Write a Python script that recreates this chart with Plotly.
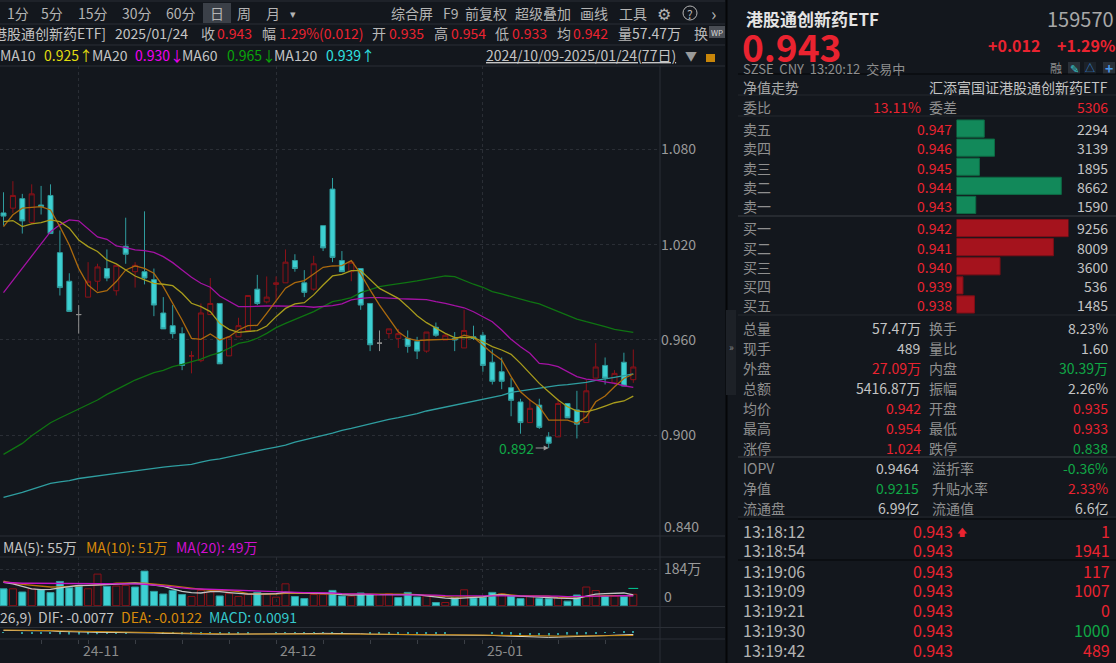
import plotly.graph_objects as go

W, H = 1116, 663
FONT = "Noto Sans CJK SC"
BG = "#13171d"
GREY = "#b9b9b9"
RED = "#ea2330"
GREEN = "#10a846"

# daily bars, left to right as visible in the window
opens = [1.040,1.043,1.049,1.034,1.045,1.051,1.015,.997,.976,.987,.997,1.005,.991,1.019,1.003,1.003,.998,.977,.969,.964,
         .950,.947,.976,.983,.950,.962,.966,.992,.984,.995,.996,1.010,.996,.992,1.032,1.055,1.010,1.003,1.005,.983,
         .958,.964,.961,.961,.959,.953,.968,.960,.961,.955,.962,.963,.946,.940,.930,.921,.908,.919,.899,.899,
         .920,.916,.908,.936,.944,.933,.946,.935]
highs = [1.053,1.060,1.052,1.058,1.057,1.058,1.029,1.002,.982,1.009,1.008,1.017,1.007,1.037,1.009,1.041,1.005,.987,.982,.968,
         .953,.983,.999,.983,.962,.974,.988,1.001,1.000,1.000,1.017,1.014,1.004,1.013,1.032,1.062,1.016,1.010,1.005,.983,
         .966,.967,.967,.966,.962,.965,.971,.964,.965,.979,.969,.965,.954,.949,.936,.923,.923,.923,.902,.923,
         .920,.928,.935,.958,.949,.941,.952,.954]
lows = [1.032,1.040,1.027,1.033,1.039,1.027,.988,.978,.964,.987,.991,.997,.988,1.008,.993,.995,.975,.967,.961,.941,
        .939,.946,.976,.945,.950,.962,.965,.982,.983,.985,.996,1.003,.987,.991,1.016,1.009,1.003,.997,.979,.953,
        .953,.961,.955,.952,.948,.952,.962,.960,.953,.955,.960,.940,.932,.929,.912,.901,.908,.904,.892,.899,
        .911,.898,.908,.936,.932,.932,.931,.933]
closes = [1.038,1.051,1.035,1.052,1.044,1.027,.993,.978,.976,.997,1.006,.999,1.007,1.014,1.007,.999,.982,.967,.964,.944,
          .950,.977,.983,.945,.962,.969,.988,.983,.987,.996,1.009,1.005,.990,1.008,1.018,1.012,1.003,1.009,.982,.957,
          .958,.967,.964,.956,.953,.965,.963,.963,.960,.966,.961,.944,.934,.934,.922,.908,.917,.905,.895,.920,
          .911,.907,.928,.943,.936,.939,.931,.943]
grey_days = [9, 41]

ma5 = [1.0314,1.0388,1.0430,1.0434,1.0440,1.0419,1.0314,1.0198,1.0051,.9946,.9898,.9911,.9968,1.0041,1.0066,1.0051,1.0020,.9936,.9831,.9726,
       .9610,.9604,.9638,.9600,.9621,.9663,.9690,.9692,.9768,.9848,.9926,.9961,.9974,1.0016,1.0058,1.0066,1.0068,1.0100,1.0016,.9915,
       .9820,.9736,.9652,.9610,.9596,.9600,.9604,.9604,.9604,.9631,.9617,.9568,.9516,.9474,.9369,.9274,.9222,.9180,.9096,.9096,
       .9096,.9075,.9117,.9211,.9247,.9306,.9358,.9386]
ma10 = [1.0345,1.0352,1.0314,1.0331,1.0339,1.0356,1.0345,1.0304,1.0230,1.0188,1.0157,1.0104,1.0079,1.0041,1.0003,.9978,.9957,.9951,.9942,.9894,
        .9831,.9810,.9779,.9705,.9667,.9648,.9652,.9659,.9688,.9747,.9799,.9827,.9835,.9884,.9946,1.0003,1.0013,1.0037,1.0037,.9978,
        .9925,.9894,.9862,.9810,.9753,.9709,.9673,.9642,.9615,.9615,.9617,.9589,.9558,.9537,.9510,.9453,.9390,.9327,.9274,.9222,
        .9180,.9153,.9148,.9163,.9184,.9205,.9216,.9247]
ma20 = [.9898,.9974,1.0047,1.0125,1.0203,1.0282,1.0325,1.0356,1.0350,1.0299,1.0249,1.0234,1.0192,1.0182,1.0167,1.0163,1.0152,1.0125,1.0087,1.0041,
        .9995,.9957,.9932,.9877,.9841,.9810,.9810,.9814,.9814,.9814,.9814,.9814,.9812,.9806,.9810,.9816,.9827,.9852,.9862,.9867,
        .9867,.9862,.9860,.9858,.9856,.9854,.9841,.9831,.9816,.9803,.9778,.9747,.9715,.9663,.9604,.9558,.9516,.9453,.9447,.9432,
        .9400,.9369,.9354,.9348,.9337,.9327,.9312,.9302]
ma60 = [.8880,.8913,.8949,.8997,.9039,.9079,.9109,.9138,.9167,.9195,.9222,.9258,.9285,.9317,.9348,.9373,.9394,.9409,.9432,.9447,
        .9463,.9480,.9503,.9520,.9548,.9579,.9590,.9611,.9642,.9678,.9705,.9730,.9753,.9779,.9810,.9841,.9852,.9867,.9898,.9915,
        .9936,.9946,.9953,.9963,.9972,.9982,.9993,1.0003,.9999,.9974,.9951,.9932,.9904,.9890,.9873,.9856,.9841,.9827,.9803,.9778,
        .9753,.9732,.9715,.9701,.9684,.9667,.9657,.9648]
ma120 = [.8609,.8624,.8640,.8659,.8678,.8697,.8707,.8714,.8728,.8737,.8743,.8752,.8760,.8768,.8777,.8785,.8794,.8800,.8806,.8810,
         .8817,.8831,.8844,.8852,.8865,.8875,.8892,.8905,.8915,.8926,.8938,.8957,.8970,.8987,.9000,.9014,.9031,.9043,.9058,.9073,
         .9085,.9100,.9111,.9123,.9136,.9153,.9165,.9176,.9188,.9201,.9211,.9224,.9239,.9251,.9270,.9279,.9287,.9298,.9308,.9314,
         .9319,.9325,.9333,.9346,.9354,.9365,.9375,.9386]

# volume, in 万
volume = [85,85,69,85,81,66,122,90,102,85,159,97,99,102,94,174,72,59,77,56,
          46,77,69,49,61,46,56,67,56,43,110,46,36,56,56,77,49,48,64,56,
          56,61,41,67,44,49,16,16,41,80,39,44,67,61,49,36,49,36,35,41,
          23,54,94,76,49,48,46,57.47]
vol_red_days = [2,4,10,11,13,14,21,22,23,25,26,27,29,30,31,34,35,38,41,42,46,48,50,54,57,60,63,64,66,68]
vol_forecast = 87
vol_ma5 = [118,110,97,85,81,82,90,97,102,102,104,107,108,110,113,110,105,97,85,72,
           66,64,71,71,66,61,58,58,58,61,67,66,64,64,62,61,56,53,54,56,56,56,56,58,56,49,43,38,36,38,
           39,44,53,54,51,49,48,44,41,38,36,36,48,58,61,64,64,55]
vol_ma10 = [123,113,107,102,97,94,95,97,99,102,104,107,113,115,115,113,110,105,100,94,
            87,81,77,76,76,71,61,59,58,59,62,64,64,61,59,58,58,58,58,58,59,61,59,58,56,53,49,46,43,44,
            44,44,51,59,54,49,49,49,48,41,41,44,46,49,51,51,51,51]
vol_ma20 = [118,115,113,113,113,113,113,113,112,110,110,110,110,110,110,108,105,100,95,90,
            85,84,82,81,79,77,76,74,72,69,67,67,66,66,66,64,61,61,59,58,56,56,56,54,54,54,53,51,51,49,
            49,51,51,51,49,49,49,49,49,48,46,46,49,49,49,49,51,49]

# MACD panel
dif = [.012,.012,.011,.011,.010,.010,.007,.005,.004,.004,.003,.003,.003,.002,.002,.001,.000,-.002,-.003,-.005,
       -.006,-.006,-.006,-.006,-.006,-.006,-.006,-.005,-.005,-.004,-.004,-.003,-.003,-.003,-.002,-.002,-.002,-.003,-.004,-.006,
       -.007,-.008,-.009,-.009,-.010,-.010,-.010,-.010,-.010,-.010,-.010,-.010,-.012,-.014,-.016,-.018,-.019,-.020,-.021,-.020,
       -.019,-.019,-.018,-.015,-.013,-.011,-.009,-.0077]
dea = [.014,.014,.013,.013,.012,.011,.010,.009,.008,.007,.006,.005,.004,.003,.002,.001,.000,.000,-.001,-.002,
       -.003,-.003,-.004,-.004,-.005,-.005,-.005,-.005,-.005,-.005,-.005,-.005,-.005,-.004,-.004,-.003,-.003,-.003,-.004,-.004,
       -.005,-.006,-.007,-.007,-.008,-.008,-.009,-.009,-.010,-.010,-.010,-.010,-.011,-.011,-.012,-.012,-.013,-.014,-.014,-.015,
       -.015,-.015,-.015,-.014,-.014,-.013,-.013,-.0122]
macd = [.002,0,-.002,-.004,-.004,-.002,-.006,-.008,-.008,-.006,-.006,-.004,-.002,-.002,0,0,0,-.004,-.004,-.006,
        -.006,-.006,-.004,-.004,-.002,-.002,-.002,0,0,.002,.002,.004,.004,.002,.004,.002,.002,0,0,-.004,
        -.004,-.004,-.004,-.004,-.004,-.004,-.002,-.002,0,0,0,0,-.002,-.006,-.008,-.012,-.012,-.012,-.014,-.010,
        -.008,-.008,-.006,-.002,.002,.004,.008,.0091]

price_ticks = [1.080, 1.020, 0.960, 0.900]
month_days = [9, 30, 52]
month_labels = ["24-11", "24-12", "25-01"]
date_ticks = [5, 9, 10, 15, 20, 25, 30, 35, 40, 45, 50, 52, 55, 60, 65]

sell_names = ["卖五", "卖四", "卖三", "卖二", "卖一"]
sell_prices = ["0.947", "0.946", "0.945", "0.944", "0.943"]
sell_sizes = [2294, 3139, 1895, 8662, 1590]
buy_names = ["买一", "买二", "买三", "买四", "买五"]
buy_prices = ["0.942", "0.941", "0.940", "0.939", "0.938"]
buy_sizes = [9256, 8009, 3600, 536, 1485]

stats_left = [("总量", "57.47万", GREY), ("现手", "489", GREY), ("外盘", "27.09万", RED), ("总额", "5416.87万", GREY),
              ("均价", "0.942", RED), ("最高", "0.954", RED), ("涨停", "1.024", RED)]
stats_right = [("换手", "8.23%", GREY), ("量比", "1.60", GREY), ("内盘", "30.39万", GREEN), ("振幅", "2.26%", GREY),
               ("开盘", "0.935", RED), ("最低", "0.933", RED), ("跌停", "0.838", GREEN)]
nav_left = [("IOPV", "0.9464", GREY), ("净值", "0.9215", GREEN), ("流通盘", "6.99亿", GREY)]
nav_right = [("溢折率", "-0.36%", GREEN), ("升贴水率", "2.33%", RED), ("流通值", "6.6亿", GREY)]
trades = [("13:18:12", "0.943", "1", RED), ("13:18:54", "0.943", "1941", RED), ("13:19:06", "0.943", "117", RED),
          ("13:19:09", "0.943", "1007", RED), ("13:19:21", "0.943", "0", RED), ("13:19:30", "0.943", "1000", GREEN),
          ("13:19:42", "0.943", "489", RED)]

days = list(range(1, len(closes) + 1))


def fx(x):
    return x / W


def fy(y):
    return 1 - y / H


notes = []
shapes = []


def txt(x, y, s, color=GREY, size=14, anchor="left", bold=False):
    if bold:
        s = "<b>" + s + "</b>"
    notes.append(dict(x=fx(x), y=fy(y), xref="paper", yref="paper", text=s, showarrow=False, xanchor=anchor,
                      yanchor="middle", font=dict(color=color, size=size, family=FONT), borderpad=0, borderwidth=0))


def hline(y, x0=0, x1=W, color="#2b2f36", width=1):
    shapes.append(dict(type="line", xref="paper", yref="paper", x0=fx(x0), x1=fx(x1), y0=fy(y), y1=fy(y),
                       line=dict(color=color, width=width)))


def vline(x, y0=0, y1=H, color="#2b2f36", width=1):
    shapes.append(dict(type="line", xref="paper", yref="paper", x0=fx(x), x1=fx(x), y0=fy(y0), y1=fy(y1),
                       line=dict(color=color, width=width)))


def box(x0, y0, x1, y1, fill="rgba(0,0,0,0)", line="rgba(0,0,0,0)"):
    shapes.append(dict(type="rect", xref="paper", yref="paper", x0=fx(x0), x1=fx(x1), y0=fy(y0), y1=fy(y1),
                       fillcolor=fill, line=dict(color=line, width=1)))


fig = go.Figure()


def add_candles(idx, line, fill):
    side = dict(line=dict(color=line, width=1), fillcolor=fill)
    fig.add_trace(go.Candlestick(x=[days[i] for i in idx], open=[opens[i] for i in idx], high=[highs[i] for i in idx],
                                 low=[lows[i] for i in idx], close=[closes[i] for i in idx],
                                 increasing=side, decreasing=side, whiskerwidth=0, showlegend=False))


up_idx = [i for i in range(len(days)) if closes[i] >= opens[i] and days[i] not in grey_days]
down_idx = [i for i in range(len(days)) if closes[i] < opens[i]]
flat_idx = [i for i in range(len(days)) if days[i] in grey_days]
add_candles(up_idx, "#8c1118", "rgba(0,0,0,0)")
add_candles(down_idx, "#2f9c9e", "#3dd0d2")
add_candles(flat_idx, "#8f8f8f", "#8f8f8f")

ma_lines = [(ma120, "#2f9ea0"), (ma60, "#0f7412"), (ma20, "#a412a4"), (ma5, "#ab6a0e"), (ma10, "#a89c1c")]
for vals, col in ma_lines:
    fig.add_trace(go.Scatter(x=days, y=vals, mode="lines", line=dict(color=col, width=1.3), showlegend=False))

bar_fill = ["rgba(0,0,0,0)" if d in vol_red_days else "#3dd0d2" for d in days]
bar_edge = ["#8c1118" if d in vol_red_days else "#2f9c9e" for d in days]
fig.add_trace(go.Bar(x=days, y=volume, width=0.75, marker=dict(color=bar_fill, line=dict(color=bar_edge, width=1)),
                     xaxis="x2", yaxis="y2", showlegend=False))
for vals, col in [(vol_ma10, "#b8720a"), (vol_ma5, "#c4c4c4"), (vol_ma20, "#c414c4")]:
    fig.add_trace(go.Scatter(x=days, y=vals, mode="lines", line=dict(color=col, width=1.3), xaxis="x2", yaxis="y2",
                             showlegend=False))
fig.add_trace(go.Scatter(x=days[-1:], y=[vol_forecast], mode="markers",
                         marker=dict(symbol="line-ew-open", size=7, line=dict(color="#c8860a", width=1)),
                         xaxis="x2", yaxis="y2", showlegend=False))

fig.add_trace(go.Bar(x=days, y=macd, width=0.12, marker=dict(color="#2f9c9e", line=dict(width=0)), xaxis="x3", yaxis="y3",
                     showlegend=False))
fig.add_trace(go.Scatter(x=days, y=dif, mode="lines", line=dict(color="#e6e0d0", width=1), xaxis="x3", yaxis="y3",
                         showlegend=False))
fig.add_trace(go.Scatter(x=days, y=dea, mode="lines", line=dict(color="#c8860a", width=1), xaxis="x3", yaxis="y3",
                         showlegend=False))

fig.add_trace(go.Bar(x=sell_sizes, y=sell_names, orientation="h", width=0.9,
                     marker=dict(color="#12895a", line=dict(color="#0d6a44", width=1)),
                     xaxis="x4", yaxis="y4", showlegend=False))
fig.add_trace(go.Bar(x=buy_sizes, y=buy_names, orientation="h", width=0.9,
                     marker=dict(color="#a5131d", line=dict(color="#7d0f17", width=1)),
                     xaxis="x5", yaxis="y5", showlegend=False))

# ---- toolbar
for x, s in [(7, "1分"), (41, "5分"), (78, "15分"), (122, "30分"), (166, "60分"), (210, "日"), (237, "周"), (266, "月")]:
    txt(x, 13, s, "#b4b4b4", 14)
box(203, 3, 231, 23, fill="#3b4048")
txt(293, 13, "▾", "#b4b4b4", 11, "center")
for x, s in [(391, "综合屏"), (443, "F9"), (465, "前复权"), (515, "超级叠加"), (580, "画线"), (619, "工具")]:
    txt(x, 13, s, "#b4b4b4", 14)
txt(664, 13, "⚙", "#b4b4b4", 16, "center")
txt(690, 13, "?", "#b4b4b4", 12, "center")
shapes.append(dict(type="circle", xref="paper", yref="paper", x0=fx(683), x1=fx(697), y0=fy(20), y1=fy(6),
                   line=dict(color="#b4b4b4", width=1)))
txt(713, 13, "›", "#b4b4b4", 18, "center")

# ---- quote line
txt(-7, 33, "港股通创新药ETF]", "#c4c4c4", 14)
txt(115, 33, "2025/01/24", "#c4c4c4", 14)
for x, s, col in [(201, "收", GREY), (217, "0.943", RED), (262, "幅", GREY), (279, "1.29%(0.012)", RED), (372, "开", GREY),
                  (389, "0.935", RED), (434, "高", GREY), (451, "0.954", RED), (495, "低", GREY), (512, "0.933", RED),
                  (557, "均", GREY), (573, "0.942", RED), (618, "量", GREY), (632, "57.47万", "#c4c4c4"), (694, "换", GREY)]:
    txt(x, 33, s, col, 14)
box(709, 26, 725, 38, fill="#4a4e55")
txt(717, 32, "WP", "#d8d8d8", 8, "center")

# ---- moving average line
for x, s, col in [(0, "MA10", "#c4c4c4"), (44, "0.925↑", "#e0dc10"), (92, "MA20", "#c4c4c4"), (135, "0.930↓", "#f000f0"),
                  (182, "MA60", "#c4c4c4"), (227, "0.965↓", "#0aa30a"), (274, "MA120", "#c4c4c4"), (326, "0.939↑", "#30e0e0")]:
    txt(x, 55, s, col, 14)
txt(486, 55, "<u>2024/10/09-2025/01/24(77日)</u>", "#c4c4c4", 14)
txt(691, 55, "▼", "#9a9a9a", 12, "center")
box(706, 54, 715, 62, fill="#c8860a")

# ---- price axis labels that the axis cannot place, panel titles
txt(664, 526, "0.840", "#9a9a9a", 14)
for x, s, col in [(3, "MA(5): 55万", "#c4c4c4"), (86, "MA(10): 51万", "#d88a0a"), (176, "MA(20): 49万", "#d010d0")]:
    txt(x, 547, s, col, 14)
txt(664, 568, "184万", "#9a9a9a", 14)
txt(664, 596, "0", "#9a9a9a", 14)
for x, s, col in [(0, "26,9)", "#c4c4c4"), (38, "DIF: -0.0077", "#c4c4c4"), (121, "DEA: -0.0122", "#d88a0a"),
                  (209, "MACD: 0.0091", "#35c8cc")]:
    txt(x, 617, s, col, 14)
for d, s in zip(month_days, month_labels):
    notes.append(dict(x=d, y=fy(650), xref="x3", yref="paper", text=s, showarrow=False, xanchor="left", yanchor="middle",
                      xshift=2, font=dict(color="#8a8a8a", size=14, family=FONT)))

# low marker
notes.append(dict(x=days[lows.index(min(lows))], y=min(lows), xref="x", yref="y", text="0.892", showarrow=True, ax=-32, ay=0,
                  arrowcolor="#9a9a9a", arrowwidth=1, arrowhead=2, arrowsize=1, standoff=0, startstandoff=0,
                  font=dict(color=GREEN, size=14, family=FONT)))

# ---- right panel header
txt(746, 18, "港股通创新药ETF", "#e4e4e4", 17, bold=True)
txt(1114, 18, "159570", "#a8a8a8", 20, "right")
txt(742, 46, "0.943", RED, 37, bold=True)
txt(1040, 45, "+0.012", RED, 16, "right", bold=True)
txt(1115, 45, "+1.29%", RED, 16, "right", bold=True)
txt(743, 69, "SZSE  CNY  13:20:12  交易中", "#8f8f8f", 13)
txt(1056, 68, "融", "#8f8f8f", 12, "center")
box(1068, 62, 1080, 74, fill="#2a3038")
txt(1074, 68, "✎", "#35c8cc", 11, "center")
box(1084, 62, 1096, 74, fill="#1c222a")
txt(1090, 68, "△", "#3a8ad8", 10, "center")
box(1103, 62, 1115, 74, fill="#2a3038")
txt(1109, 68, "+", "#4a9ae8", 14, "center", bold=True)
txt(743, 87, "净值走势", "#a8a8a8", 14)
txt(1108, 87, "汇添富国证港股通创新药ETF", "#c4c4c4", 14, "right")
txt(743, 107, "委比", "#8f8f8f", 14)
txt(921, 107, "13.11%", RED, 14, "right")
txt(929, 107, "委差", "#8f8f8f", 14)
txt(1108, 107, RED and "5306", RED, 14, "right")

# ---- order book
for y, name, p, v in zip([129, 148, 168, 187, 206], sell_names, sell_prices, sell_sizes):
    txt(743, y, name, "#8f8f8f", 14)
    txt(952, y, p, RED, 14, "right")
    txt(1108, y, str(v), "#c4c4c4", 14, "right")
for y, name, p, v in zip([228, 248, 267, 286, 305], buy_names, buy_prices, buy_sizes):
    txt(743, y, name, "#8f8f8f", 14)
    txt(952, y, p, RED, 14, "right")
    txt(1108, y, str(v), "#c4c4c4", 14, "right")

# ---- stats
for y, a, b in zip([328, 348, 368, 388, 408, 428, 448], stats_left, stats_right):
    txt(743, y, a[0], "#8f8f8f", 14)
    txt(921, y, a[1], a[2] if a[2] != GREY else "#c4c4c4", 14, "right")
    txt(929, y, b[0], "#8f8f8f", 14)
    txt(1108, y, b[1], b[2] if b[2] != GREY else "#c4c4c4", 14, "right")
for y, a, b in zip([468, 488, 508], nav_left, nav_right):
    txt(743, y, a[0], "#8f8f8f", 14)
    txt(919, y, a[1], a[2] if a[2] != GREY else "#c4c4c4", 14, "right")
    txt(932, y, b[0], "#8f8f8f", 14)
    txt(1108, y, b[1], b[2] if b[2] != GREY else "#c4c4c4", 14, "right")

# ---- last trades
for y, t in zip([531, 550, 571, 590, 610, 630, 650], trades):
    txt(743, y, t[0], "#b4b4b4", 16)
    txt(953, y, t[1], RED, 16, "right")
    txt(1110, y, t[2], t[3], 16, "right")
txt(962, 531, "🡅", RED, 10, "center")

# ---- panel rules
for y in [1, 24, 45, 66, 536, 557, 606.5, 627.5, 639]:
    hline(y, 0, 725)
vline(660, 66, 663)
vline(726.5, 0, 663, "#050608", 2)
box(726, 310, 736, 395, fill="#1d2127")
txt(731, 346, "»", "#8a8a8a", 10, "center")
for y, col in [(74, "#050608"), (95, "#24282f"), (116, "#24282f"), (216, "#3a3e45"), (315, "#24282f"), (457, "#3a3e45"),
               (517, "#24282f"), (519, "#050608"), (560, "#050608")]:
    hline(y, 738, W, col)

fig.update_layout(
    width=W, height=H, margin=dict(l=0, r=0, t=0, b=0), paper_bgcolor=BG, plot_bgcolor=BG, barmode="overlay", boxgap=0.24,
    showlegend=False, annotations=notes, shapes=shapes, font=dict(family=FONT),
    hovermode=False,
    xaxis=dict(domain=[0, fx(660)], range=[0.628, 70.84], tickvals=month_days, showticklabels=False, showgrid=True,
               griddash="dot", gridcolor="#2a2e35", zeroline=False, rangeslider=dict(visible=False), anchor="y"),
    yaxis=dict(domain=[fy(536), fy(66)], range=[0.8366, 1.1325], tickvals=price_ticks, ticktext=["%.3f" % p for p in price_ticks],
               side="right", showgrid=True, griddash="dot", gridcolor="#2a2e35", zeroline=False, ticks="",
               tickfont=dict(color="#9a9a9a", size=14, family=FONT), anchor="x"),
    xaxis2=dict(domain=[0, fx(660)], range=[0.628, 70.84], tickvals=month_days, showticklabels=False, showgrid=True,
                griddash="dot", gridcolor="#2a2e35", zeroline=False, anchor="y2"),
    yaxis2=dict(domain=[fy(606.5), fy(557)], range=[-4, 245], tickvals=[184], showticklabels=False, showgrid=True,
                griddash="dot", gridcolor="#2a2e35", zeroline=False, anchor="x2"),
    xaxis3=dict(domain=[0, fx(660)], range=[0.628, 70.84], tickvals=date_ticks, showticklabels=False, showgrid=False,
                ticks="outside", ticklen=4, tickcolor="#3a3e45", zeroline=False, anchor="y3"),
    yaxis3=dict(domain=[fy(639), fy(628)], range=[-0.0289, 0.0235], showticklabels=False, showgrid=False, zeroline=False,
                anchor="x3"),
    xaxis4=dict(domain=[fx(956.5), fx(1068.5)], range=[0, 9256], visible=False, anchor="y4"),
    yaxis4=dict(domain=[fy(214.5), fy(119)], range=[4.5, -0.5], type="category", visible=False, anchor="x4"),
    xaxis5=dict(domain=[fx(956.5), fx(1068.5)], range=[0, 9256], visible=False, anchor="y5"),
    yaxis5=dict(domain=[fy(314), fy(218.5)], range=[4.5, -0.5], type="category", visible=False, anchor="x5"),
)

fig.write_html("out.html", config=dict(displayModeBar=False),
               post_script="document.body.style.margin='0';document.documentElement.style.overflow='hidden';")
